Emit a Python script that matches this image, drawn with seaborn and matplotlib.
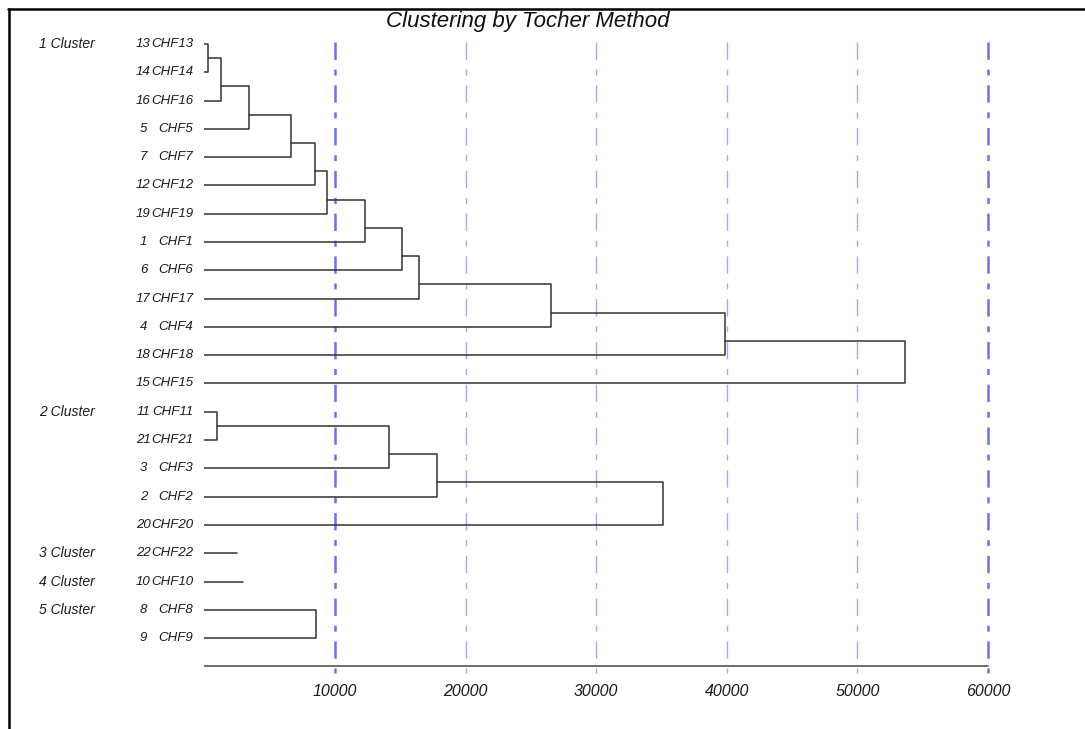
import matplotlib
matplotlib.use("Agg")
import matplotlib.pyplot as plt
import matplotlib.transforms as mtransforms
from matplotlib.lines import Line2D
import pandas as pd
import seaborn as sns

# Tocher clusters: leaf ids top to bottom, and the height of each successive join
cluster_names = ["1 Cluster", "2 Cluster", "3 Cluster", "4 Cluster", "5 Cluster"]
cluster1_ids = [13, 14, 16, 5, 7, 12, 19, 1, 6, 17, 4, 18, 15]
cluster1_joins = [280, 1290, 3440, 6600, 8470, 9410, 12300, 15150, 16410, 26560, 39840, 53630]
cluster2_ids = [11, 21, 3, 2, 20]
cluster2_joins = [955, 14130, 17820, 35100]
cluster3_ids = [22]
cluster3_joins = [2500]
cluster4_ids = [10]
cluster4_joins = [2980]
cluster5_ids = [8, 9]
cluster5_joins = [8540]

x_ticks = [10000, 20000, 30000, 40000, 50000, 60000]
bold_ticks = [10000, 60000]

W, H = 1085, 729
LINE = "#333333"
TEXT = "#1a1a1a"

sns.set_theme(style="white")
plt.rcParams["font.family"] = ["Liberation Sans", "DejaVu Sans"]
plt.rcParams["lines.scale_dashes"] = False

clusters = [
    (cluster1_ids, cluster1_joins),
    (cluster2_ids, cluster2_joins),
    (cluster3_ids, cluster3_joins),
    (cluster4_ids, cluster4_joins),
    (cluster5_ids, cluster5_joins),
]


def chain_segments(rows, joins):
    """polylines for a chain dendrogram (each leaf joins the growing group)"""
    if len(rows) == 1:
        return [[(0, rows[0]), (joins[0], rows[0])]]
    segs = []
    node_x, node_y = 0, rows[0]
    for i, h in enumerate(joins):
        r = rows[i + 1]
        segs.append([(node_x, node_y), (h, node_y), (h, r), (0, r)])
        node_x, node_y = h, r - 0.5
    return segs


records = []
leaf_rows = []
first_rows = []
row = 0
seg_id = 0
for ids, joins in clusters:
    rows = list(range(row, row + len(ids)))
    first_rows.append(row)
    leaf_rows += list(zip(ids, rows))
    for seg in chain_segments(rows, joins):
        for px, py in seg:
            records.append({"x": px, "y": py, "seg": seg_id})
        seg_id += 1
    row += len(ids)
n_rows = row
df = pd.DataFrame(records)

fig = plt.figure(figsize=(W / 100, H / 100), dpi=100)

# pixel geometry of the plot area
x0_px, x60_px = 204.4, 988.0
row0_px, row_step = 44.0, 28.29
top_px, bot_px, right_px = 42.0, 673.0, 1010.0
k = (x60_px - x0_px) / 60000.0
ax = fig.add_axes([x0_px / W, 1 - bot_px / H, (right_px - x0_px) / W, (bot_px - top_px) / H])
y_bot = (bot_px - row0_px) / row_step
y_top = (top_px - row0_px) / row_step
ax.set_xlim(0, (right_px - x0_px) / k)
ax.set_ylim(y_bot, y_top)

# dash-dot reference lines, drawn top-down so the pattern starts with a dash
dash = (0, (12.5, 7, 4.3, 7))
for t in x_ticks:
    if t in bold_ticks:
        ax.plot([t, t], [y_top, y_bot], color="#6e6ef5", lw=1.8, ls=dash, zorder=1, clip_on=False)
    else:
        ax.plot([t, t], [y_top, y_bot], color="#a6a6ff", lw=1.0, ls=dash, zorder=1, clip_on=False)

sns.lineplot(data=df, x="x", y="y", units="seg", estimator=None, sort=False,
             color=LINE, lw=1.1, legend=False, ax=ax, zorder=2)

# axis line
ax.plot([0, 60000], [n_rows, n_rows], color="#555555", lw=1.2, zorder=2)

for s in ax.spines.values():
    s.set_visible(False)
ax.set_xlabel("")
ax.set_ylabel("")
ax.set_yticks([])
ax.set_xticks(x_ticks)
ax.set_xticklabels([str(t) for t in x_ticks], fontsize=11.5, style="italic", color=TEXT)
ax.tick_params(axis="x", length=0, pad=8)

# leaf and cluster labels
trans = mtransforms.blended_transform_factory(fig.transFigure, ax.transData)
for leaf_id, r in leaf_rows:
    ax.text(143.5 / W, r, str(leaf_id), transform=trans, ha="center", va="center",
            fontsize=9.5, style="italic", color=TEXT)
    ax.text(193 / W, r, "CHF%d" % leaf_id, transform=trans, ha="right", va="center",
            fontsize=9.5, style="italic", color=TEXT)
for name, r in zip(cluster_names, first_rows):
    ax.text(39 / W, r, name, transform=trans, ha="left", va="center",
            fontsize=10, style="italic", color=TEXT)

fig.text(528 / W, 1 - 21 / H, "Clustering by Tocher Method", ha="center", va="center",
         fontsize=16, style="italic", color="#111111")

# page frame (top and left edges)
fig.add_artist(Line2D([8 / W, 1], [1 - 8.5 / H, 1 - 8.5 / H], color="black", lw=1.8))
fig.add_artist(Line2D([8.5 / W, 8.5 / W], [0, 1 - 8.5 / H], color="black", lw=1.8))

fig.savefig("out.png", dpi=100)
